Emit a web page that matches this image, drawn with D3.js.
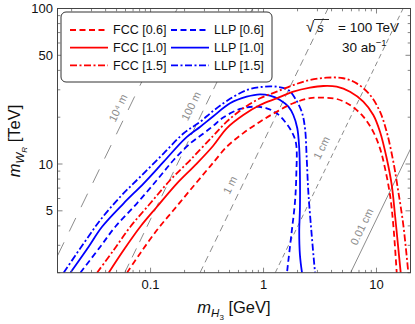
<!DOCTYPE html>
<html><head><meta charset="utf-8">
<script src="https://cdn.jsdelivr.net/npm/d3@7"></script>
<style>body{margin:0;background:#fff}svg{display:block;font-family:'Liberation Sans',Arial,sans-serif}</style>
</head><body><svg id="c" width="415" height="324"></svg>
<script>
// ---- data (m_H3 [GeV], m_WR [TeV]) ----
const xDomain = [0.015, 20];
const yDomain = [2, 100];
const xTickLabels = [0.1, 1, 10];
const yTickLabels = [5, 10, 50, 100];

const fcc06 = [[0.0619,2.0],[0.0811,2.67],[0.114,3.76],[0.160,5.06],[0.2247,6.81],[0.316,9.15],[0.357,10.15],[0.472,12.9],[0.662,15.8],[0.931,18.7],[1.308,21.7],[1.835,24.6],[2.579,26.5],[3.382,26.7],[4.444,26.2],[5.83,23.95],[7.64,20.15],[9.37,16.1],[10.74,12.6],[11.9,9.38],[13.17,6.32],[14.09,4.05],[15.1,2.0]];
const fcc10 = [[0.0426,2.0],[0.0578,2.80],[0.0811,3.95],[0.114,5.31],[0.1714,7.51],[0.2577,10.1],[0.357,13.05],[0.472,16.97],[0.662,20.66],[0.931,23.95],[1.308,26.46],[1.835,29.17],[2.579,30.95],[3.382,31.74],[4.444,31.41],[5.83,29.17],[7.64,25.16],[9.37,20.66],[10.74,16.13],[12.31,10.88],[13.64,7.33],[14.58,4.70],[15.6,2.87],[16.38,2.0]];
const fcc15 = [[0.0336,2.0],[0.0472,2.80],[0.0662,3.95],[0.0995,5.59],[0.1495,7.89],[0.2247,10.61],[0.357,15.14],[0.472,18.71],[0.662,22.82],[0.931,26.46],[1.308,29.17],[1.835,32.2],[2.579,34.7],[3.625,35.9],[5.084,35.6],[6.68,33.0],[8.76,27.8],[10.74,21.7],[12.31,16.1],[14.09,10.35],[15.6,6.64],[17.28,4.05],[19.12,2.0]];

const llp06 = [[0.0239,2.0],[0.0359,2.94],[0.0487,3.95],[0.0758,5.59],[0.114,7.89],[0.160,10.61],[0.2247,13.59],[0.2954,15.76],[0.357,17.56],[0.44,19.9],[0.619,22.6],[0.812,23.36],[1.067,22.82],[1.308,21.18],[1.549,18.71],[1.776,16.13],[1.939,13.59],[1.95,8.5],[1.899,5.72],[1.776,3.67],[1.623,2.08],[1.615,2.0]];
const llp10 = [[0.0195,2.0],[0.0283,2.94],[0.0372,3.95],[0.0578,5.59],[0.087,7.51],[0.1307,10.35],[0.203,14.63],[0.2756,17.38],[0.357,20.2],[0.505,24.57],[0.71,27.1],[0.93,28.07],[1.14,27.5],[1.40,25.8],[1.66,23.36],[1.835,20.66],[1.99,16.97],[2.07,12.62],[2.10,8.5],[2.10,5.19],[2.07,3.67],[2.10,2.6],[2.19,2.0]];
const llp15 = [[0.0170,2.0],[0.0256,3.09],[0.0359,4.36],[0.054,6.16],[0.0811,8.28],[0.1307,11.72],[0.1965,15.76],[0.2756,18.71],[0.357,21.9],[0.472,25.4],[0.71,29.9],[0.995,31.4],[1.308,31.4],[1.657,29.9],[1.899,26.5],[2.177,21.7],[2.328,17.0],[2.411,10.9],[2.491,6.64],[2.67,3.49],[2.856,2.0]];

// decay-length contours: two points each
const decayLabels = ["10\u2074 m", "100 m", "1 m", "1 cm", "0.01 cm"];
const decayEnds = [[[0.015,2.57],[0.1724,100]], [[0.059,2],[0.80,100]], [[0.274,2],[3.72,100]], [[1.27,2],[17.2,100]], [[5.9,2],[20,12.5]]];
const decayLabelAt = [[0.0515,22.9],[0.228,23.6],[0.505,7.33],[3.26,12.7],[7.40,3.95]];

const legendNames = ["FCC [0.6]","FCC [1.0]","FCC [1.5]","LLP [0.6]","LLP [1.0]","LLP [1.5]"];

// ---- drawing ----
const svg = d3.select("#c");
const L = 57.5, R = 410.5, T = 8.5, B = 272.7;
const x = d3.scaleLog().domain(xDomain).range([L, R]);
const y = d3.scaleLog().domain(yDomain).range([B, T]);

svg.append("defs").append("clipPath").attr("id","clip")
  .append("rect").attr("x",L).attr("y",T).attr("width",R-L).attr("height",B-T);
const plot = svg.append("g").attr("clip-path","url(#clip)");

const grey = "#8c8c8c";
const decayDash = ["15,12","10,7","7,4.5","5,3.5",null];
decayEnds.forEach((pts,i)=>{
  plot.append("line")
    .attr("x1",x(pts[0][0])).attr("y1",y(pts[0][1]))
    .attr("x2",x(pts[1][0])).attr("y2",y(pts[1][1]))
    .attr("stroke",grey).attr("stroke-width",1)
    .attr("stroke-dasharray",decayDash[i]);
});
decayLabelAt.forEach((p,i)=>{
  const e = decayEnds[i];
  const ang = Math.atan2(y(e[1][1])-y(e[0][1]), x(e[1][0])-x(e[0][0]))*180/Math.PI;
  plot.append("text")
    .attr("transform",`translate(${x(p[0])},${y(p[1])}) rotate(${ang})`)
    .attr("text-anchor","middle").attr("dy","0.35em")
    .attr("font-size",11).attr("fill",grey)
    .text(decayLabels[i]);
});

const line = d3.line().x(d=>x(d[0])).y(d=>y(d[1])).curve(d3.curveCatmullRom.alpha(0.5));
const dashes = ["6,3.5", null, "7,2.5,2,2.5"];
const series = [[llp06,"#0000ff",0],[llp10,"#0000ff",1],[llp15,"#0000ff",2],[fcc06,"#ff0000",0],[fcc10,"#ff0000",1],[fcc15,"#ff0000",2]];
series.forEach(s=>{
  plot.append("path").datum(s[0]).attr("d",line)
    .attr("fill","none").attr("stroke",s[1]).attr("stroke-width",1.8)
    .attr("stroke-dasharray",dashes[s[2]]);
});

// ticks (inside, all four sides)
const tickCol = "#666";
const xMinor = x.ticks(20).filter(v=>v>=xDomain[0] && v<=xDomain[1]);
const yMinor = y.ticks(20).filter(v=>v>=yDomain[0] && v<=yDomain[1]);
const tg = svg.append("g").attr("stroke",tickCol).attr("stroke-width",0.8);
xMinor.forEach(v=>{
  const maj = xTickLabels.includes(+v.toPrecision(3));
  const len = maj?5:2.8;
  tg.append("line").attr("x1",x(v)).attr("x2",x(v)).attr("y1",B).attr("y2",B-len);
  tg.append("line").attr("x1",x(v)).attr("x2",x(v)).attr("y1",T).attr("y2",T+len);
});
yMinor.forEach(v=>{
  const maj = yTickLabels.includes(+v.toPrecision(3));
  const len = maj?5:2.8;
  tg.append("line").attr("y1",y(v)).attr("y2",y(v)).attr("x1",L).attr("x2",L+len);
  tg.append("line").attr("y1",y(v)).attr("y2",y(v)).attr("x1",R).attr("x2",R-len);
});

svg.append("rect").attr("x",L).attr("y",T).attr("width",R-L).attr("height",B-T)
  .attr("fill","none").attr("stroke","#444").attr("stroke-width",1);

// tick labels
svg.append("g").selectAll("text").data(xTickLabels).join("text")
  .attr("x",d=>x(d)).attr("y",289).attr("text-anchor","middle")
  .attr("font-size",13).attr("fill","#111").text(d=>d);
svg.append("g").selectAll("text").data(yTickLabels).join("text")
  .attr("x",53).attr("y",d=>y(d)+4.6).attr("text-anchor","end")
  .attr("font-size",13).attr("fill","#111").text(d=>d);

// axis titles
const xt = svg.append("text").attr("x",234).attr("y",313).attr("text-anchor","middle")
  .attr("font-size",16.5).attr("fill","#111");
xt.append("tspan").attr("font-style","italic").text("m");
xt.append("tspan").attr("font-style","italic").attr("font-size",11.5).attr("dy",4).text("H");
xt.append("tspan").attr("font-size",8).attr("dy",2.5).text("3");
xt.append("tspan").attr("dy",-6.5).text(" [GeV]");

const yt = svg.append("text").attr("transform","translate(20,141) rotate(-90)").attr("text-anchor","middle")
  .attr("font-size",16.5).attr("fill","#111");
yt.append("tspan").attr("font-style","italic").text("m");
yt.append("tspan").attr("font-style","italic").attr("font-size",11.5).attr("dy",4).text("W");
yt.append("tspan").attr("font-style","italic").attr("font-size",8).attr("dy",2.5).text("R");
yt.append("tspan").attr("dy",-6.5).text(" [TeV]");

// legend
const lg = svg.append("g");
lg.append("rect").attr("x",61).attr("y",12).attr("width",211).attr("height",70).attr("rx",5)
  .attr("fill","#fff").attr("stroke","#333").attr("stroke-width",1);
legendNames.forEach((n,i)=>{
  const col = Math.floor(i/3), row = i%3;
  const x0 = col? 171 : 70, yy = 30 + row*17.7;
  lg.append("line").attr("x1",x0).attr("x2",x0+38).attr("y1",yy).attr("y2",yy)
    .attr("stroke",col?"#0000ff":"#ff0000").attr("stroke-width",1.8)
    .attr("stroke-dasharray",dashes[row]);
  lg.append("text").attr("x",x0+43).attr("y",yy+4.4).attr("font-size",12.5).attr("fill","#111").text(n);
});

// energy / luminosity annotation
const ann = svg.append("g").attr("fill","#111");
ann.append("text").attr("x",306).attr("y",32).attr("font-size",15).text("\u221A");
ann.append("line").attr("x1",314).attr("x2",329).attr("y1",19.5).attr("y2",19.5).attr("stroke","#111").attr("stroke-width",0.9);
ann.append("text").attr("x",317).attr("y",32).attr("font-size",13.5).attr("font-style","italic").text("s");
ann.append("text").attr("x",399).attr("y",32).attr("font-size",13.5).attr("text-anchor","end").text("= 100 TeV");
const lum = ann.append("text").attr("x",342).attr("y",52).attr("font-size",13.5);
lum.append("tspan").text("30 ab");
lum.append("tspan").attr("font-size",9.5).attr("dy",-6).text("\u22121");
</script></body></html>
